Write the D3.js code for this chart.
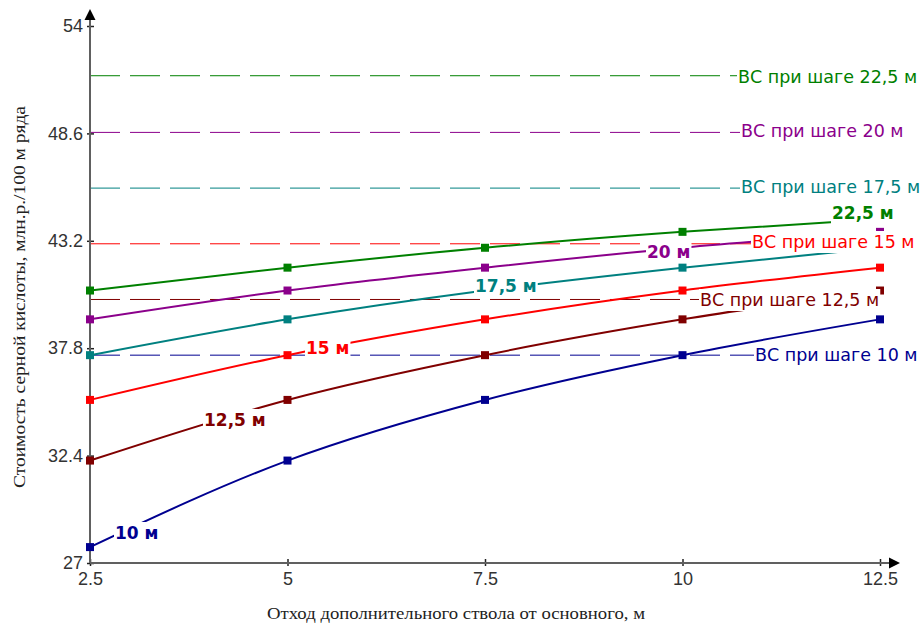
<!DOCTYPE html>
<html>
<head>
<meta charset="utf-8">
<script src="https://cdn.jsdelivr.net/npm/d3@7"></script>
<style>
  body { margin: 0; background: #fff; }
</style>
</head>
<body>
<div id="chart"></div>
<script>
// data
let offsets = [2.5, 5, 7.5, 10, 12.5];
let xTickLabels = ['2.5', '5', '7.5', '10', '12.5'];
let yTickValues = [27, 32.4, 37.8, 43.2, 48.6, 54];
let yTickLabels = ['27', '32.4', '37.8', '43.2', '48.6', '54'];

let seriesNames = ['10 м', '12,5 м', '15 м', '17,5 м', '20 м', '22,5 м'];
let cost10 = [27.8, 32.15, 35.2, 37.45, 39.25];
let cost125 = [32.15, 35.2, 37.45, 39.25, 40.7];
let cost15 = [35.2, 37.45, 39.25, 40.7, 41.85];
let cost175 = [37.45, 39.25, 40.7, 41.85, 42.85];
let cost20 = [39.25, 40.7, 41.85, 42.85, 43.65];
let cost225 = [40.7, 41.85, 42.85, 43.65, 44.3];

let bcNames = ['ВС при шаге 10 м', 'ВС при шаге 12,5 м', 'ВС при шаге 15 м',
               'ВС при шаге 17,5 м', 'ВС при шаге 20 м', 'ВС при шаге 22,5 м'];
let bcValues = [37.45, 40.25, 43.05, 45.85, 48.65, 51.5];

// styles / layout
let colors = ['#000090', '#800000', '#ff0000', '#008080', '#8b008b', '#008000'];
let seriesLabelPos = [[115, 533], [204, 420], [306, 348], [475, 286], [647, 252], [832, 213]];
let bcLabelPos = [[755, 355], [700, 300], [752, 242], [741, 187], [741, 131], [738, 77]];

let margin = { top: 26, left: 90, right: 44, bottom: 64 },
    width = 924 - margin.left - margin.right,
    height = 627 - margin.top - margin.bottom;

let svg = d3.select('#chart')
  .append('svg')
  .attr('width', 924)
  .attr('height', 627)
  .style('display', 'block');

let g = svg.append('g')
  .attr('transform', 'translate(' + margin.left + ',' + margin.top + ')');

let x = d3.scaleLinear().domain([2.5, 12.5]).range([0, width]);
let y = d3.scaleLinear().domain([27, 54]).range([height, 0]);

let series = [cost10, cost125, cost15, cost175, cost20, cost225];

// dashed levels
g.selectAll('.bc')
  .data(bcValues)
  .enter().append('line')
  .attr('class', 'bc')
  .attr('x1', 0)
  .attr('x2', width)
  .attr('y1', d => y(d))
  .attr('y2', d => y(d))
  .attr('stroke', (d, i) => colors[i])
  .attr('stroke-width', 1)
  .attr('stroke-dasharray', '30,10');

// axes
let axisColor = '#606060';
let tickFont = '"Liberation Sans", Arial, sans-serif';

let yAxis = g.append('g')
  .call(d3.axisLeft(y).tickValues(yTickValues).tickFormat((d, i) => yTickLabels[i]).tickSize(0).tickPadding(7));
yAxis.select('.domain').remove();
yAxis.selectAll('.tick text').style('font', '18px ' + tickFont).attr('fill', '#333');
yAxis.selectAll('.tick').append('line')
  .attr('x1', -3).attr('x2', 4)
  .attr('stroke', '#222').attr('stroke-width', 1.5);

let xAxis = g.append('g')
  .attr('transform', 'translate(0,' + height + ')')
  .call(d3.axisBottom(x).tickValues(offsets).tickFormat((d, i) => xTickLabels[i]).tickSize(0).tickPadding(9));
xAxis.select('.domain').remove();
xAxis.selectAll('.tick text').style('font', '18px ' + tickFont).attr('fill', '#333');
xAxis.selectAll('.tick').append('line')
  .attr('y1', -4).attr('y2', 3)
  .attr('stroke', '#222').attr('stroke-width', 1.5);

// axis lines with arrows
g.append('line')
  .attr('x1', 0).attr('x2', 0)
  .attr('y1', height).attr('y2', -14)
  .attr('stroke', axisColor).attr('stroke-width', 2);
g.append('path')
  .attr('d', 'M0,-17 L-5.5,-6 L5.5,-6 Z')
  .attr('fill', '#000');
g.append('line')
  .attr('x1', 0).attr('x2', width + 12)
  .attr('y1', height).attr('y2', height)
  .attr('stroke', axisColor).attr('stroke-width', 2);
g.append('path')
  .attr('d', 'M' + (width + 20) + ',' + height + ' L' + (width + 9) + ',' + (height - 5.5) + ' L' + (width + 9) + ',' + (height + 5.5) + ' Z')
  .attr('fill', '#000');

// series lines
let line = d3.line()
  .x((d, i) => x(offsets[i]))
  .y(d => y(d))
  .curve(d3.curveMonotoneX);

g.selectAll('.series')
  .data(series)
  .enter().append('path')
  .attr('class', 'series')
  .attr('d', line)
  .attr('fill', 'none')
  .attr('stroke', (d, i) => colors[i])
  .attr('stroke-width', 2);

series.forEach(function(s, k) {
  g.selectAll('.m' + k)
    .data(s)
    .enter().append('rect')
    .attr('class', 'm' + k)
    .attr('x', (d, i) => x(offsets[i]) - 4)
    .attr('y', d => y(d) - 4)
    .attr('width', 8)
    .attr('height', 8)
    .attr('fill', colors[k]);
});

// labels with white background
function addLabel(txt, px, py, color, weight, size) {
  let lg = svg.append('g');
  let t = lg.append('text')
    .attr('x', px)
    .attr('y', py + 6)
    .attr('fill', color)
    .style('font', weight + ' ' + size + 'px "DejaVu Sans", sans-serif')
    .text(txt);
  let b = t.node().getBBox();
  lg.insert('rect', 'text')
    .attr('x', b.x - 1)
    .attr('y', b.y - 1)
    .attr('width', b.width + 2)
    .attr('height', b.height + 2)
    .attr('fill', '#fff');
}

bcNames.forEach((n, i) => addLabel(n, bcLabelPos[i][0], bcLabelPos[i][1], colors[i], 'normal', 17.5));
seriesNames.forEach((n, i) => addLabel(n, seriesLabelPos[i][0], seriesLabelPos[i][1], colors[i], 'bold', 17));

// axis titles
svg.append('text')
  .attr('transform', 'translate(25,297) rotate(-90)')
  .attr('text-anchor', 'middle')
  .attr('textLength', 382)
  .attr('lengthAdjust', 'spacingAndGlyphs')
  .style('font', '16px "Liberation Serif", "Times New Roman", serif')
  .attr('fill', '#222')
  .text('Стоимость серной кислоты, млн.р./100 м ряда');

svg.append('text')
  .attr('x', 456)
  .attr('y', 619)
  .attr('text-anchor', 'middle')
  .attr('textLength', 378)
  .attr('lengthAdjust', 'spacingAndGlyphs')
  .style('font', '16px "Liberation Serif", "Times New Roman", serif')
  .attr('fill', '#222')
  .text('Отход дополнительного ствола от основного, м');
</script>
</body>
</html>
